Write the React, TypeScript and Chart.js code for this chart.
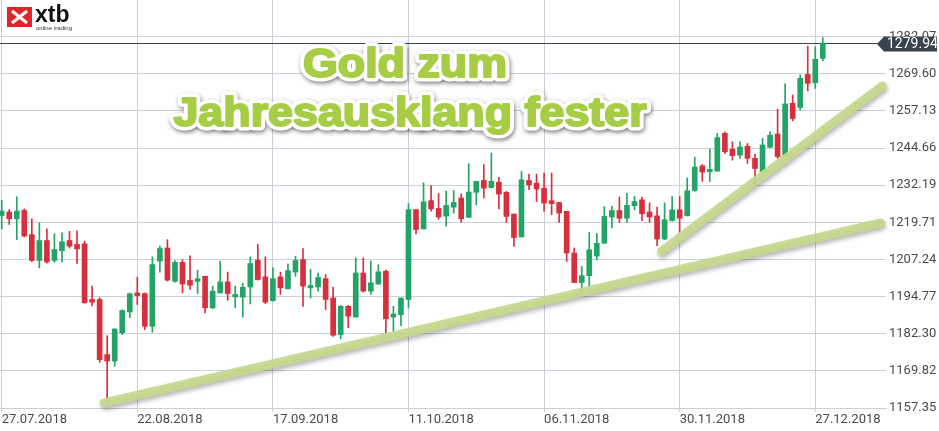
import { useEffect, useRef } from 'react';
import { Chart, registerables } from 'chart.js';

Chart.register(...registerables);

// OHLC values, one per trading day starting 27.07.2018
const opens = [
  1222.0, 1223.2, 1220.9, 1223.7, 1215.6, 1206.9, 1213.6, 1206.9, 1210.2, 1213.6,
  1212.3, 1212.5, 1193.8, 1193.8, 1175.3, 1173.1, 1182.6, 1189.6, 1196.0, 1195.8,
  1184.8, 1206.7, 1211.1, 1199.9, 1206.3, 1200.2, 1199.9, 1201.6, 1191.0, 1196.0,
  1199.7, 1194.7, 1194.6, 1198.0, 1207.0, 1201.4, 1193.4, 1201.4, 1197.4, 1203.0,
  1207.2, 1197.7, 1198.0, 1200.8, 1194.3, 1182.0, 1191.5, 1187.9, 1202.7, 1196.6,
  1199.0, 1203.3, 1187.9, 1188.7, 1193.8, 1224.0, 1217.5, 1227.0, 1224.4, 1221.8,
  1224.8, 1227.9, 1221.4, 1229.8, 1233.8, 1231.4, 1233.2, 1229.8, 1222.5, 1214.8,
  1233.8, 1232.9, 1231.2, 1227.0, 1226.4, 1223.4, 1209.4, 1199.5, 1201.8, 1208.4,
  1212.7, 1221.5, 1223.7, 1221.1, 1225.3, 1227.3, 1223.2, 1221.9, 1214.1, 1220.3,
  1223.9, 1221.9, 1230.4, 1238.7, 1236.7, 1236.9, 1249.6, 1244.3, 1242.3, 1245.3,
  1241.2, 1236.7, 1244.9, 1249.4, 1242.1, 1259.7, 1258.3, 1269.4, 1266.6, 1274.8,
];
const highs = [
  1227.1, 1224.0, 1228.3, 1224.2, 1220.9, 1219.5, 1217.5, 1215.9, 1216.2, 1216.7,
  1216.9, 1213.4, 1198.3, 1194.4, 1181.7, 1183.9, 1190.3, 1196.0, 1201.3, 1196.0,
  1208.1, 1211.7, 1213.9, 1206.9, 1207.2, 1208.5, 1203.6, 1201.6, 1198.3, 1206.6,
  1203.0, 1198.3, 1199.2, 1208.1, 1212.3, 1208.1, 1204.4, 1203.0, 1205.8, 1208.3,
  1210.9, 1203.9, 1202.7, 1202.2, 1198.0, 1191.8, 1191.8, 1207.8, 1207.8, 1206.7,
  1205.5, 1203.7, 1191.5, 1194.3, 1226.0, 1224.0, 1233.0, 1232.1, 1229.4, 1230.2,
  1230.4, 1229.3, 1239.4, 1233.5, 1239.1, 1243.0, 1234.8, 1230.1, 1222.5, 1236.8,
  1235.9, 1235.9, 1236.3, 1236.3, 1226.4, 1223.4, 1211.1, 1204.9, 1216.3, 1216.0,
  1225.0, 1225.1, 1228.2, 1229.5, 1228.4, 1228.2, 1226.2, 1224.8, 1226.2, 1228.4,
  1228.4, 1234.6, 1241.6, 1239.1, 1244.3, 1249.6, 1250.1, 1246.8, 1246.8, 1246.2,
  1242.6, 1247.9, 1250.1, 1257.7, 1266.2, 1262.5, 1269.2, 1278.9, 1278.7, 1281.8,
];
const lows = [
  1217.5, 1219.0, 1213.9, 1214.8, 1206.5, 1204.4, 1206.0, 1206.3, 1206.4, 1211.1,
  1205.9, 1192.5, 1191.6, 1172.7, 1159.6, 1171.4, 1182.0, 1187.7, 1192.1, 1183.7,
  1182.8, 1203.0, 1200.0, 1199.6, 1196.0, 1197.2, 1195.8, 1189.3, 1190.7, 1196.0,
  1193.5, 1191.0, 1187.9, 1192.3, 1200.3, 1192.4, 1193.2, 1195.5, 1197.4, 1201.6,
  1191.5, 1194.3, 1196.6, 1190.4, 1181.4, 1180.6, 1184.3, 1187.9, 1196.3, 1195.5,
  1198.8, 1182.6, 1183.1, 1185.0, 1191.0, 1215.8, 1217.5, 1223.5, 1220.7, 1218.4,
  1222.8, 1219.7, 1221.4, 1225.6, 1227.9, 1231.2, 1224.2, 1219.7, 1211.6, 1214.8,
  1230.7, 1226.7, 1223.4, 1222.3, 1219.7, 1206.6, 1199.5, 1196.0, 1198.2, 1207.1,
  1212.7, 1217.8, 1219.7, 1219.7, 1223.9, 1220.3, 1219.7, 1211.9, 1213.9, 1220.1,
  1216.3, 1221.9, 1230.1, 1233.5, 1233.4, 1236.9, 1242.9, 1240.6, 1241.2, 1239.5,
  1232.8, 1236.1, 1244.9, 1241.2, 1242.1, 1253.8, 1257.4, 1263.9, 1264.7, 1274.0,
];
const closes = [
  1223.5, 1220.9, 1223.5, 1215.1, 1206.9, 1213.6, 1206.4, 1210.6, 1213.2, 1211.7,
  1210.8, 1192.7, 1192.9, 1173.6, 1173.1, 1183.9, 1190.1, 1195.7, 1195.1, 1184.8,
  1205.5, 1210.9, 1200.3, 1206.3, 1199.0, 1198.6, 1200.8, 1191.0, 1196.6, 1199.7,
  1195.8, 1195.5, 1197.9, 1205.9, 1200.5, 1192.9, 1200.8, 1197.7, 1203.5, 1206.9,
  1198.3, 1198.5, 1201.2, 1193.8, 1181.8, 1191.5, 1188.2, 1202.7, 1196.6, 1199.4,
  1203.1, 1187.3, 1188.9, 1194.3, 1224.0, 1217.3, 1226.6, 1224.2, 1221.5, 1225.4,
  1226.4, 1220.9, 1229.9, 1233.5, 1231.2, 1233.5, 1229.2, 1221.7, 1214.6, 1234.0,
  1232.3, 1230.9, 1226.2, 1226.0, 1222.8, 1209.4, 1199.5, 1201.8, 1210.5, 1212.7,
  1221.7, 1223.7, 1221.1, 1225.4, 1226.7, 1222.6, 1221.5, 1214.1, 1220.6, 1223.9,
  1221.1, 1230.3, 1238.3, 1236.6, 1237.5, 1248.2, 1243.4, 1242.1, 1245.0, 1241.2,
  1237.8, 1245.7, 1249.0, 1241.8, 1259.5, 1254.6, 1268.1, 1266.4, 1274.5, 1279.94,
];

const xTickIndex = [0, 18, 36, 54, 72, 90, 108];
const xTickLabels = ['27.07.2018', '22.08.2018', '17.09.2018', '11.10.2018', '06.11.2018', '30.11.2018', '27.12.2018'];
const yTickValues = [1157.35, 1169.82, 1182.30, 1194.77, 1207.24, 1219.71, 1232.19, 1244.66, 1257.13, 1269.60, 1282.07];
const lastPrice = 1279.94;

// hand-drawn support lines (index, price)
const supportLong = [{ x: 13.6, y: 1159.1 }, { x: 116.7, y: 1219.5 }];
const supportShort = [{ x: 87.6, y: 1210.0 }, { x: 116.9, y: 1265.5 }];

const titleLines = ['Gold zum', 'Jahresausklang fester'];

const GREEN = '#23a466';
const RED = '#d6303f';
const GRID = '#c9d0d8';
const X_MIN = -0.2257;
const X_MAX = 117.39;

export default function App() {
  const ref = useRef<HTMLCanvasElement>(null);

  useEffect(() => {
    document.body.style.margin = '0';
    const idx = opens.map((_, i) => i);
    const colors = idx.map((i) => (closes[i] >= opens[i] ? GREEN : RED));

    const overlay = {
      id: 'overlay',
      beforeDatasetDraw(chart: any, args: any) {
        if (args.meta.type === 'line') {
          const ctx = chart.ctx;
          ctx.save();
          ctx.shadowColor = 'rgba(0,0,0,0.3)';
          ctx.shadowBlur = 4;
          ctx.shadowOffsetX = 1;
          ctx.shadowOffsetY = 3;
        }
      },
      afterDatasetDraw(chart: any, args: any) {
        if (args.meta.type === 'line') chart.ctx.restore();
      },
      beforeDatasetsDraw(chart: any) {
        const ctx = chart.ctx;
        const y = Math.round(chart.scales.y.getPixelForValue(lastPrice)) + 0.5;
        ctx.save();
        ctx.strokeStyle = '#3c444a';
        ctx.lineWidth = 1;
        ctx.beginPath();
        ctx.moveTo(0, y);
        ctx.lineTo(chart.chartArea.right, y);
        ctx.stroke();
        ctx.restore();
      },
      afterDraw(chart: any) {
        const ctx = chart.ctx;
        const right = chart.chartArea.right;
        // price tag
        const y = chart.scales.y.getPixelForValue(lastPrice) + 1;
        ctx.save();
        ctx.fillStyle = '#37444d';
        ctx.beginPath();
        ctx.moveTo(right - 9, y);
        ctx.lineTo(right - 2, y - 7.5);
        ctx.lineTo(937, y - 7.5);
        ctx.lineTo(937, y + 7.5);
        ctx.lineTo(right - 2, y + 7.5);
        ctx.closePath();
        ctx.fill();
        ctx.fillStyle = '#ffffff';
        ctx.font = '14px Roboto';
        ctx.textAlign = 'left';
        ctx.textBaseline = 'middle';
        ctx.fillText(lastPrice.toFixed(2), right + 1, y + 0.5);
        ctx.restore();

        // logo
        ctx.save();
        ctx.fillStyle = '#e2252b';
        ctx.fillRect(7, 7, 25, 20);
        ctx.strokeStyle = '#ffffff';
        ctx.lineWidth = 3;
        ctx.lineCap = 'butt';
        ctx.beginPath();
        ctx.moveTo(12, 11); ctx.lineTo(27, 23);
        ctx.moveTo(27, 11); ctx.lineTo(12, 23);
        ctx.stroke();
        ctx.fillStyle = '#111111';
        ctx.font = 'bold 23px "Liberation Sans"';
        ctx.textAlign = 'left';
        ctx.textBaseline = 'alphabetic';
        ctx.fillText('xtb', 35, 22);
        ctx.font = '6px "Liberation Sans"';
        ctx.fillStyle = '#333333';
        ctx.fillText('online trading', 36, 30);
        ctx.restore();

        // title
        const pos = [
          { cx: 405, by: 77 },
          { cx: 410, by: 126 },
        ];
        titleLines.forEach((t, i) => {
          ctx.save();
          ctx.translate(pos[i].cx, pos[i].by);
          ctx.scale(1.12, 1);
          ctx.font = 'bold 40px "Liberation Sans"';
          ctx.textAlign = 'center';
          ctx.textBaseline = 'alphabetic';
          ctx.lineJoin = 'round';
          ctx.shadowColor = 'rgba(0,0,0,0.5)';
          ctx.shadowBlur = 4;
          ctx.shadowOffsetX = 1;
          ctx.shadowOffsetY = 2;
          ctx.strokeStyle = '#ffffff';
          ctx.lineWidth = 9;
          ctx.strokeText(t, 0, 0);
          ctx.shadowColor = 'transparent';
          ctx.fillStyle = '#a6cd45';
          ctx.strokeStyle = '#a6cd45';
          ctx.lineWidth = 2;
          ctx.fillText(t, 0, 0);
          ctx.strokeText(t, 0, 0);
          ctx.restore();
        });
      },
    };

    const chart = new Chart(ref.current as HTMLCanvasElement, {
      type: 'bar',
      data: {
        datasets: [
          {
            type: 'line',
            data: supportLong,
            borderColor: 'rgba(196,216,140,0.92)',
            borderWidth: 9,
            borderCapStyle: 'round',
            pointRadius: 0,
            order: 0,
            clip: false,
          } as any,
          {
            type: 'line',
            data: supportShort,
            borderColor: 'rgba(196,216,140,0.92)',
            borderWidth: 9,
            borderCapStyle: 'round',
            pointRadius: 0,
            order: 0,
            clip: false,
          } as any,
          {
            type: 'bar',
            data: idx.map((i) => ({ x: i, y: [opens[i], closes[i]] })),
            backgroundColor: colors,
            barThickness: 5,
            minBarLength: 1,
            grouped: false,
            order: 1,
          } as any,
          {
            type: 'bar',
            data: idx.map((i) => ({ x: i, y: [lows[i], highs[i]] })),
            backgroundColor: colors,
            barThickness: 1,
            grouped: false,
            order: 2,
          } as any,
        ],
      },
      options: {
        responsive: false,
        animation: false,
        layout: { padding: 0 },
        plugins: { legend: { display: false }, tooltip: { enabled: false } },
        scales: {
          x: {
            type: 'linear',
            min: X_MIN,
            max: X_MAX,
            offset: false,
            afterBuildTicks: (s: any) => {
              s.ticks = xTickIndex.map((v) => ({ value: v }));
            },
            afterFit: (s: any) => {
              s.height = 23;
              s.paddingLeft = 0;
              s.paddingRight = 0;
            },
            grid: { color: GRID, lineWidth: 1, drawTicks: true, tickLength: 4, offset: false },
            border: { display: true, color: GRID },
            ticks: {
              align: 'start',
              padding: 0,
              autoSkip: false,
              maxRotation: 0,
              color: '#4a4a4a',
              font: { size: 13, family: 'Roboto' },
              callback: (_v: any, i: number) => xTickLabels[i],
            },
          },
          y: {
            type: 'linear',
            position: 'right',
            min: 1157.35,
            max: 1294.4,
            afterBuildTicks: (s: any) => {
              s.ticks = yTickValues.map((v) => ({ value: v }));
            },
            afterFit: (s: any) => {
              s.width = 53;
              s.paddingTop = 0;
              s.paddingBottom = 0;
            },
            grid: { color: GRID, lineWidth: 1, drawTicks: false },
            border: { display: false },
            ticks: {
              padding: 3,
              color: '#4a4a4a',
              font: { size: 13, family: 'Roboto' },
              callback: (v: any) => Number(v).toFixed(2),
            },
          },
        },
      } as any,
      plugins: [overlay],
    });
    return () => chart.destroy();
  }, []);

  return (
    <div style={{ width: 939, height: 431 }}>
      <canvas ref={ref} width={939} height={431} style={{ display: 'block', width: 939, height: 431 }} />
    </div>
  );
}
